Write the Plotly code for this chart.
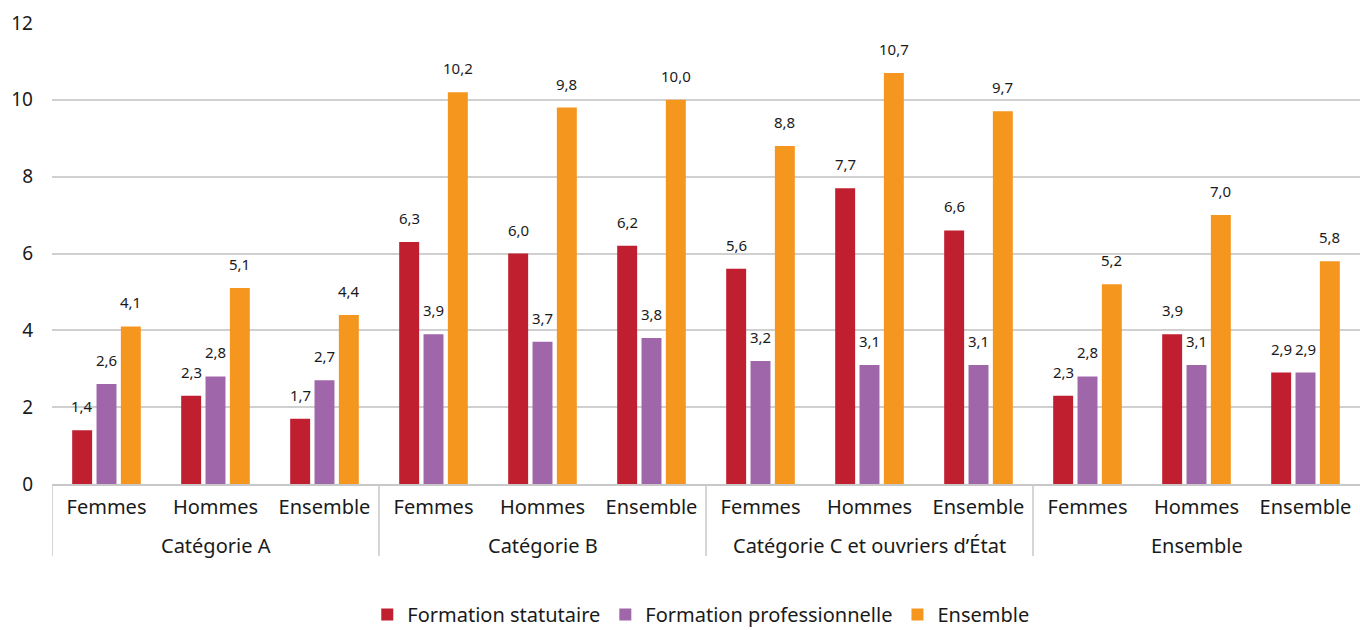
import plotly.graph_objects as go

groups = ["Catégorie A", "Catégorie B", "Catégorie C et ouvriers d’État", "Ensemble"]
subgroups = ["Femmes", "Hommes", "Ensemble"]

statutaire = [1.4, 2.3, 1.7, 6.3, 6.0, 6.2, 5.6, 7.7, 6.6, 2.3, 3.9, 2.9]
professionnelle = [2.6, 2.8, 2.7, 3.9, 3.7, 3.8, 3.2, 3.1, 3.1, 2.8, 3.1, 2.9]
ensemble = [4.1, 5.1, 4.4, 10.2, 9.8, 10.0, 8.8, 10.7, 9.7, 5.2, 7.0, 5.8]

series_names = ["Formation statutaire", "Formation professionnelle", "Ensemble"]
colors = ["#C01F30", "#A066AA", "#F5961F"]

FONT = "Noto Sans"
BARGAP = 0.33
GROUPGAP = 0.18

n = len(groups) * len(subgroups)
xpos = list(range(n))
ticktext = [s for _ in groups for s in subgroups]

fig = go.Figure()
all_series = [statutaire, professionnelle, ensemble]
slot = (1 - BARGAP) / len(all_series)
for k, (name, vals, col) in enumerate(zip(series_names, all_series, colors)):
    fig.add_trace(go.Bar(
        x=xpos, y=vals, name=name,
        marker=dict(color=col, line=dict(width=0)),
    ))
    off = (k - (len(all_series) - 1) / 2) * slot
    for i, v in enumerate(vals):
        fig.add_annotation(
            x=xpos[i] + off, y=v, xref="x", yref="y",
            text=f"{v:.1f}".replace(".", ","), showarrow=False,
            yanchor="bottom", xanchor="center", yshift=12,
            font=dict(size=15, color="#1a1a1a", family=FONT),
        )

ng = len(subgroups)
for gi, g in enumerate(groups):
    fig.add_annotation(
        x=gi * ng + (ng - 1) / 2, y=-0.133, xref="x", yref="paper",
        text=g, showarrow=False, yanchor="middle", xanchor="center",
        font=dict(size=20, color="#1a1a1a", family=FONT),
    )
for b in range(len(groups)):
    fig.add_shape(type="line", x0=b * ng - 0.5, x1=b * ng - 0.5, y0=0, y1=-0.156,
                  xref="x", yref="paper", line=dict(color="#C8C8C8", width=1.5))

fig.update_layout(
    width=1360, height=630,
    margin=dict(l=52, r=0, t=23, b=146, autoexpand=False),
    paper_bgcolor="white", plot_bgcolor="white",
    barmode="group", bargap=BARGAP, bargroupgap=GROUPGAP,
    font=dict(family=FONT, size=20, color="#1a1a1a"),
    showlegend=True,
    legend=dict(orientation="h", x=0.496, xanchor="center", y=-0.283, yanchor="middle",
                font=dict(size=20, family=FONT), traceorder="normal"),
    yaxis=dict(range=[0, 12], dtick=2, showgrid=True, gridcolor="#D0D0D0", gridwidth=1.5,
               zeroline=False, showline=False, ticks="", tickfont=dict(size=19),
               ticklabelstandoff=18, automargin=False),
    xaxis=dict(range=[-0.5, n - 0.5], tickvals=xpos, ticktext=ticktext,
               showline=True, linecolor="#C8C8C8", linewidth=1.5, showgrid=False,
               ticks="", tickfont=dict(size=20), ticklabelstandoff=4, automargin=False),
)

fig.write_html(
    "out.html",
    config={"displayModeBar": False},
    post_script="document.body.style.margin='0';document.body.style.overflow='hidden';",
)
